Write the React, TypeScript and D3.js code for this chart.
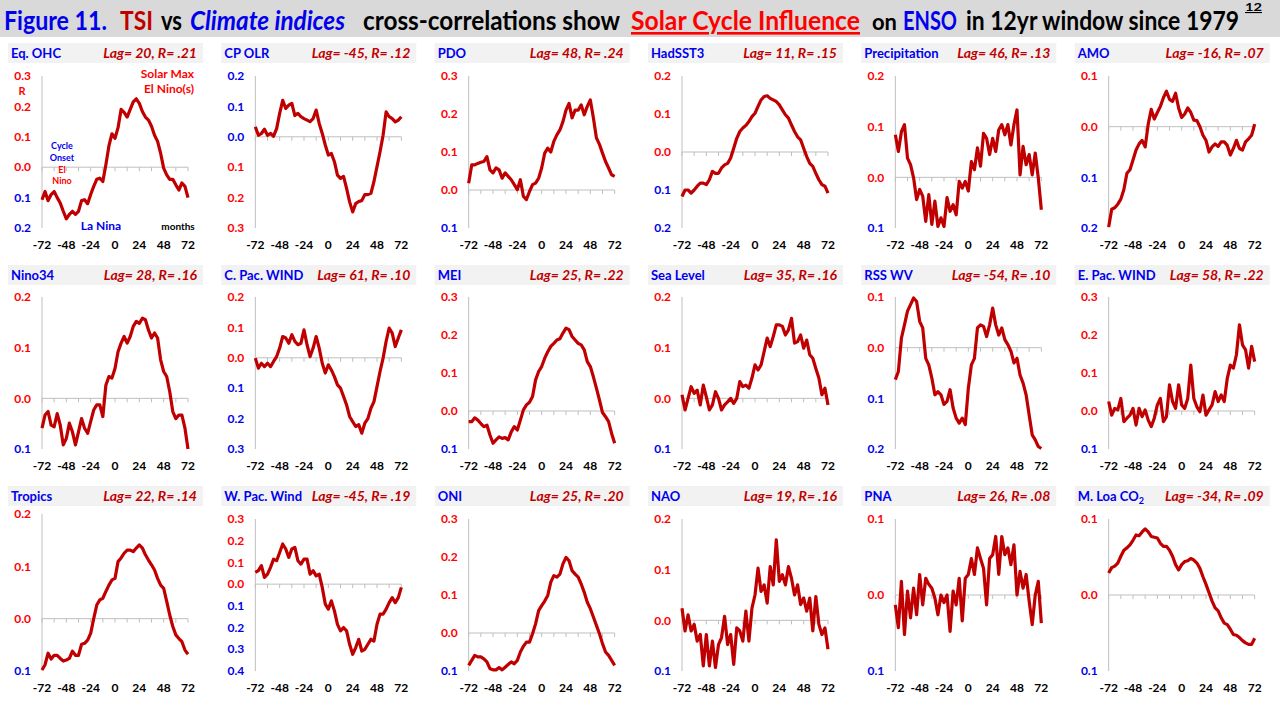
import React from 'react';
import * as d3 from 'd3';

// monthly lag (TSI leads climate index), sampled every 3 months
const lags = d3.range(-72, 73, 3);

const eqOhc = [-0.107, -0.08, -0.11, -0.09, -0.08, -0.1, -0.118, -0.145, -0.17, -0.155, -0.145, -0.155, -0.145, -0.11, -0.107, -0.12, -0.09, -0.063, -0.04, -0.036, -0.047, 0.008, 0.07, 0.11, 0.095, 0.13, 0.19, 0.18, 0.165, 0.19, 0.215, 0.225, 0.21, 0.183, 0.165, 0.155, 0.135, 0.105, 0.085, 0.046, -0.003, -0.025, -0.04, -0.04, -0.058, -0.075, -0.052, -0.063, -0.1];
const cpOlr = [0.033, 0.005, 0.011, 0.025, 0.005, 0.011, 0.002, 0.027, 0.077, 0.12, 0.093, 0.104, 0.11, 0.07, 0.077, 0.066, 0.06, 0.055, 0.05, 0.06, 0.088, 0.044, 0.011, -0.027, -0.06, -0.055, -0.082, -0.126, -0.137, -0.13, -0.17, -0.214, -0.247, -0.22, -0.213, -0.21, -0.19, -0.19, -0.186, -0.147, -0.098, -0.049, 0.005, 0.082, 0.066, 0.06, 0.049, 0.055, 0.066];
const pdo = [0.018, 0.066, 0.066, 0.07, 0.073, 0.075, 0.088, 0.053, 0.045, 0.058, 0.053, 0.031, 0.045, 0.036, 0.027, 0.014, 0.001, 0.027, -0.017, -0.025, -0.004, 0.014, 0.018, 0.031, 0.058, 0.097, 0.11, 0.1, 0.128, 0.145, 0.158, 0.18, 0.21, 0.228, 0.19, 0.21, 0.21, 0.224, 0.198, 0.22, 0.237, 0.19, 0.137, 0.12, 0.097, 0.075, 0.058, 0.04, 0.036];
const hadSst3 = [-0.117, -0.1, -0.1, -0.108, -0.1, -0.09, -0.082, -0.082, -0.086, -0.073, -0.051, -0.056, -0.056, -0.042, -0.034, -0.03, -0.016, 0.01, 0.036, 0.054, 0.063, 0.07, 0.08, 0.093, 0.102, 0.12, 0.137, 0.146, 0.148, 0.141, 0.137, 0.133, 0.124, 0.111, 0.098, 0.089, 0.071, 0.054, 0.04, 0.032, 0.01, -0.012, -0.03, -0.038, -0.056, -0.073, -0.086, -0.09, -0.108];
const precipitation = [0.084, 0.051, 0.09, 0.104, 0.038, 0.025, -0.001, -0.044, -0.024, -0.037, -0.087, -0.034, -0.093, -0.047, -0.097, -0.08, -0.097, -0.04, -0.067, -0.054, -0.074, -0.008, -0.021, -0.008, -0.027, 0.031, 0.015, 0.058, 0.022, 0.087, 0.077, 0.045, 0.077, 0.051, 0.094, 0.104, 0.084, 0.104, 0.064, 0.104, 0.133, 0.005, 0.061, 0.025, 0.045, 0.005, 0.048, -0.001, -0.064];
const amo = [-0.198, -0.163, -0.16, -0.153, -0.143, -0.124, -0.092, -0.085, -0.066, -0.046, -0.034, -0.027, -0.04, 0.005, 0.034, 0.015, 0.028, 0.04, 0.057, 0.07, 0.054, 0.05, 0.066, 0.037, 0.018, 0.025, 0.037, 0.028, 0.013, 0.012, 0.0, -0.017, -0.027, -0.05, -0.04, -0.034, -0.039, -0.03, -0.03, -0.037, -0.056, -0.043, -0.027, -0.043, -0.046, -0.03, -0.024, -0.017, 0.005];
const nino34 = [-0.059, -0.033, -0.026, -0.053, -0.056, -0.03, -0.053, -0.092, -0.079, -0.049, -0.066, -0.092, -0.066, -0.04, -0.059, -0.069, -0.046, -0.023, -0.013, -0.013, -0.036, 0.026, 0.043, 0.04, 0.059, 0.092, 0.109, 0.122, 0.109, 0.122, 0.142, 0.152, 0.148, 0.158, 0.155, 0.135, 0.119, 0.129, 0.119, 0.076, 0.053, 0.043, 0.013, -0.026, -0.04, -0.033, -0.033, -0.059, -0.1];
const cPacWind = [-0.001, -0.034, -0.018, -0.029, -0.018, -0.029, -0.012, 0.004, 0.032, 0.07, 0.065, 0.048, 0.076, 0.054, 0.043, 0.048, 0.092, 0.043, 0.004, 0.032, 0.07, 0.032, -0.018, -0.05, -0.023, -0.04, -0.062, -0.089, -0.1, -0.127, -0.155, -0.193, -0.21, -0.226, -0.22, -0.248, -0.215, -0.2, -0.166, -0.144, -0.095, -0.045, -0.001, 0.054, 0.098, 0.081, 0.037, 0.065, 0.092];
const mei = [-0.028, -0.028, -0.018, -0.024, -0.033, -0.041, -0.037, -0.063, -0.085, -0.076, -0.068, -0.072, -0.07, -0.076, -0.055, -0.041, -0.05, -0.024, 0.003, 0.016, 0.023, 0.038, 0.082, 0.104, 0.117, 0.139, 0.156, 0.17, 0.178, 0.187, 0.19, 0.205, 0.218, 0.214, 0.196, 0.187, 0.178, 0.174, 0.161, 0.13, 0.117, 0.09, 0.06, 0.029, -0.004, -0.015, -0.028, -0.059, -0.085];
const seaLevel = [0.007, -0.023, 0.0, 0.023, 0.01, 0.016, -0.013, 0.026, 0.003, -0.023, -0.013, 0.013, 0.0, -0.023, -0.013, -0.007, 0.0, -0.01, 0.0, 0.033, 0.023, 0.026, 0.02, 0.04, 0.066, 0.056, 0.066, 0.092, 0.119, 0.102, 0.122, 0.145, 0.145, 0.142, 0.125, 0.135, 0.158, 0.109, 0.112, 0.125, 0.099, 0.115, 0.086, 0.079, 0.059, 0.04, 0.007, 0.02, -0.013];
const rssWv = [-0.063, -0.047, 0.019, 0.045, 0.072, 0.085, 0.098, 0.091, 0.052, 0.039, -0.021, -0.034, -0.06, -0.093, -0.087, -0.093, -0.112, -0.106, -0.083, -0.119, -0.139, -0.149, -0.139, -0.152, -0.08, -0.034, -0.021, 0.039, 0.045, 0.042, 0.022, 0.045, 0.078, 0.045, 0.025, 0.039, 0.016, 0.006, -0.007, -0.03, -0.021, -0.054, -0.07, -0.093, -0.133, -0.172, -0.182, -0.195, -0.199];
const ePacWind = [0.025, -0.011, 0.007, 0.003, 0.033, -0.028, -0.019, -0.011, 0.007, -0.037, 0.007, -0.015, 0.003, -0.024, -0.041, -0.019, 0.016, 0.033, -0.028, -0.015, 0.069, 0.025, 0.007, 0.069, 0.016, 0.007, 0.033, 0.121, 0.033, 0.011, -0.002, 0.042, -0.011, 0.003, 0.016, 0.051, 0.025, 0.042, 0.025, 0.086, 0.121, 0.113, 0.148, 0.227, 0.174, 0.161, 0.113, 0.17, 0.13];
const tropics = [-0.098, -0.088, -0.066, -0.077, -0.07, -0.07, -0.076, -0.081, -0.079, -0.076, -0.062, -0.07, -0.07, -0.049, -0.047, -0.041, -0.028, 0.0, 0.026, 0.036, 0.039, 0.052, 0.064, 0.074, 0.077, 0.109, 0.116, 0.125, 0.131, 0.131, 0.128, 0.135, 0.141, 0.135, 0.122, 0.112, 0.103, 0.093, 0.077, 0.064, 0.058, 0.033, 0.007, -0.015, -0.031, -0.038, -0.044, -0.06, -0.068];
const wPacWind = [0.054, 0.062, 0.085, 0.031, 0.046, 0.077, 0.115, 0.108, 0.146, 0.185, 0.162, 0.123, 0.162, 0.169, 0.108, 0.092, 0.115, 0.115, 0.046, 0.062, 0.038, 0.046, -0.015, -0.092, -0.115, -0.077, -0.123, -0.185, -0.215, -0.2, -0.215, -0.277, -0.323, -0.292, -0.254, -0.308, -0.3, -0.277, -0.254, -0.262, -0.185, -0.138, -0.138, -0.115, -0.085, -0.062, -0.085, -0.062, -0.015];
const oni = [-0.085, -0.072, -0.059, -0.063, -0.063, -0.068, -0.076, -0.094, -0.097, -0.097, -0.091, -0.097, -0.09, -0.083, -0.076, -0.081, -0.072, -0.05, -0.035, -0.024, -0.024, -0.002, 0.024, 0.059, 0.072, 0.084, 0.099, 0.134, 0.151, 0.147, 0.155, 0.182, 0.199, 0.19, 0.164, 0.155, 0.147, 0.129, 0.107, 0.081, 0.064, 0.042, 0.02, -0.002, -0.028, -0.05, -0.059, -0.072, -0.085];
const nao = [0.024, -0.021, 0.011, -0.021, -0.008, -0.041, -0.028, -0.09, -0.028, -0.09, -0.041, -0.093, -0.048, -0.034, 0.008, -0.048, -0.028, -0.087, -0.015, -0.021, -0.041, 0.018, -0.041, 0.024, 0.05, 0.103, 0.057, 0.07, 0.034, 0.106, 0.07, 0.159, 0.077, 0.09, 0.07, 0.106, 0.083, 0.05, 0.07, 0.031, 0.044, 0.018, 0.044, -0.021, 0.047, -0.008, -0.028, -0.015, -0.057];
const pna = [-0.013, -0.043, 0.018, -0.052, 0.005, -0.03, 0.009, -0.026, 0.027, -0.013, 0.022, 0.014, 0.009, -0.004, -0.026, 0.0, -0.01, 0.0, -0.048, 0.005, -0.013, 0.022, -0.034, 0.022, 0.027, 0.048, 0.027, 0.062, 0.048, 0.035, -0.013, 0.048, 0.053, 0.077, 0.027, 0.077, 0.053, 0.062, 0.04, 0.066, 0.0, 0.031, 0.009, 0.027, -0.008, -0.039, 0.0, 0.018, -0.037];
const mLoaCo2 = [0.029, 0.036, 0.038, 0.042, 0.051, 0.059, 0.062, 0.066, 0.072, 0.079, 0.078, 0.083, 0.087, 0.083, 0.077, 0.076, 0.075, 0.068, 0.064, 0.064, 0.059, 0.051, 0.04, 0.033, 0.04, 0.044, 0.045, 0.048, 0.046, 0.042, 0.035, 0.024, 0.014, 0.003, -0.008, -0.017, -0.021, -0.03, -0.037, -0.039, -0.045, -0.052, -0.053, -0.056, -0.06, -0.063, -0.065, -0.065, -0.057];

const names = ['Eq. OHC', 'CP OLR', 'PDO', 'HadSST3', 'Precipitation', 'AMO', 'Nino34', 'C. Pac. WIND', 'MEI', 'Sea Level', 'RSS WV', 'E. Pac. WIND', 'Tropics', 'W. Pac. Wind', 'ONI', 'NAO', 'PNA', 'M. Loa CO2'];
const bestLag = [20, -45, 48, 11, 46, -16, 28, 61, 25, 35, -54, 58, 22, -45, 25, 19, 26, -34];
const bestR = ['.21', '.12', '.24', '.15', '.13', '.07', '.16', '.10', '.22', '.16', '.10', '.22', '.14', '.19', '.20', '.16', '.08', '.09'];
// y axis [bottom, top]
const yDomains: [number, number][] = [
  [-0.2, 0.3], [-0.3, 0.2], [-0.1, 0.3], [-0.2, 0.2], [-0.1, 0.2], [-0.2, 0.1],
  [-0.1, 0.2], [-0.3, 0.2], [-0.1, 0.3], [-0.1, 0.2], [-0.2, 0.1], [-0.1, 0.3],
  [-0.1, 0.2], [-0.4, 0.3], [-0.1, 0.3], [-0.1, 0.2], [-0.1, 0.1], [-0.1, 0.1],
];
const series = [eqOhc, cpOlr, pdo, hadSst3, precipitation, amo, nino34, cPacWind, mei, seaLevel, rssWv, ePacWind, tropics, wPacWind, oni, nao, pna, mLoaCo2];
const xTickLabels = [-72, -48, -24, 0, 24, 48, 72];
const xTickMarks = d3.range(-72, 73, 12);

const FONT = "Lato, Carlito, 'Open Sans', sans-serif";
const RED = '#ff0000';
const DARKRED = '#c00000';
const BLUE = '#0000ee';
const GRID = '#bfbfbf';

// title pieces, laid out to the reference's word positions
const titleParts = [
  { text: 'Figure 11.', x: 4, len: 103, fill: BLUE },
  { text: 'TSI', x: 120, len: 33, fill: DARKRED },
  { text: 'vs', x: 161, len: 21, fill: '#000' },
  { text: 'Climate indices', x: 190, len: 155, fill: BLUE, italic: true },
  { text: 'cross-correlations show', x: 363, len: 257, fill: '#000' },
  { text: 'Solar Cycle Influence', x: 631, len: 229, fill: RED, underline: true },
  { text: 'on', x: 872, len: 25, fill: '#000', small: true },
  { text: 'ENSO', x: 903, len: 54, fill: BLUE },
  { text: 'in 12yr window since 1979', x: 966, len: 273, fill: '#000' },
];

const colW = 1280 / 6;
const rows = [
  { band: 43, top: 76, bottom: 228, label: 245 },
  { band: 265, top: 297, bottom: 449, label: 466 },
  { band: 486, top: 519, bottom: 671, label: 688 },
];

const Panel = ({ idx }: { idx: number }) => {
  const col = idx % 6;
  const row = rows[Math.floor(idx / 6)];
  const ox = col * colW;
  const top = names[idx] === 'Tropics' ? row.top - 5 : row.top;
  const x = d3.scaleLinear().domain([-72, 72]).range([ox + 42, ox + 188]);
  const y = d3.scaleLinear().domain(yDomains[idx]).range([row.bottom, top]);
  const flip = names[idx] === 'CP OLR';
  const yTicks = d3.range(Math.round(yDomains[idx][0] * 10), Math.round(yDomains[idx][1] * 10) + 1).map((d) => d / 10);
  const line = d3
    .line<number>()
    .x((_, i) => x(lags[i]))
    .y((d) => y(d));
  const name = names[idx];

  return (
    <g>
      <rect x={ox + 8} y={row.band} width={195} height={20} fill="#f2f2f2" />
      <text x={ox + 11} y={row.band + 15} fill={BLUE} fontSize={13} fontWeight="bold" fontFamily={FONT}>
        {name === 'M. Loa CO2' ? (
          <>
            M. Loa CO<tspan fontSize={9} dy={3}>2</tspan>
          </>
        ) : (
          name
        )}
      </text>
      <text x={ox + 197} y={row.band + 15} fill={DARKRED} fontSize={14} fontWeight="bold" fontStyle="italic" textAnchor="end" fontFamily={FONT}>
        {`Lag= ${bestLag[idx]}, R= ${bestR[idx]}`}
      </text>
      {/* y axis */}
      <line x1={x(-72)} x2={x(-72)} y1={top} y2={row.bottom} stroke={GRID} />
      {yTicks.map((t) => {
        const pos = flip ? t < 0 : t >= 0;
        return (
          <text key={t} x={ox + 31} y={y(t)} dy="0.35em" textAnchor="end" fontSize={12} fontWeight="bold" fill={pos ? RED : BLUE} fontFamily={FONT}>
            {Math.abs(t).toFixed(1)}
          </text>
        );
      })}
      {/* zero line */}
      <line x1={x(-72)} x2={x(72)} y1={y(0)} y2={y(0)} stroke={GRID} />
      {xTickMarks.map((t) => (
        <line key={t} x1={x(t)} x2={x(t)} y1={y(0)} y2={y(0) + 4} stroke={GRID} />
      ))}
      {xTickLabels.map((t) => (
        <text key={t} x={x(t)} y={row.label} dy="0.35em" textAnchor="middle" fontSize={12} fontWeight="bold" fill="#000" fontFamily={FONT}>
          {t}
        </text>
      ))}
      <path d={line(series[idx]) || ''} fill="none" stroke={DARKRED} strokeWidth={3.2} strokeLinejoin="round" />
    </g>
  );
};

const Notes = () => (
  <g fontFamily={FONT} fontWeight="bold">
    <text x={22} y={91} dy="0.35em" textAnchor="middle" fontSize={11} fill={RED}>R</text>
    <text x={194} y={74} dy="0.35em" textAnchor="end" fontSize={12} fill={RED}>Solar Max</text>
    <text x={194} y={89} dy="0.35em" textAnchor="end" fontSize={12} fill={RED}>El Nino(s)</text>
    <text x={62} y={146} dy="0.35em" textAnchor="middle" fontSize={9} fill={BLUE}>Cycle</text>
    <text x={62} y={158} dy="0.35em" textAnchor="middle" fontSize={9} fill={BLUE}>Onset</text>
    <text x={62} y={170} dy="0.35em" textAnchor="middle" fontSize={9} fill={RED}>El</text>
    <text x={62} y={181} dy="0.35em" textAnchor="middle" fontSize={9} fill={RED}>Nino</text>
    <text x={101} y={226} dy="0.35em" textAnchor="middle" fontSize={12} fill={BLUE}>La Nina</text>
    <text x={178} y={226} dy="0.35em" textAnchor="middle" fontSize={10} fill="#000">months</text>
  </g>
);

const App = () => {
  return (
    <svg width={1280} height={704} style={{ position: 'absolute', left: 0, top: 0, background: '#fff' }}>
      <rect x={0} y={0} width={1280} height={37} fill="#d9d9d9" />
      {titleParts.map((p) => (
        <text
          key={p.text}
          x={p.x}
          y={30}
          fontSize={p.small ? 22 : 26}
          fontWeight="bold"
          fontStyle={p.italic ? 'italic' : 'normal'}
          textDecoration={p.underline ? 'underline' : 'none'}
          fill={p.fill}
          fontFamily={FONT}
          textLength={p.len}
          lengthAdjust="spacingAndGlyphs"
        >
          {p.text}
        </text>
      ))}
      <text x={1245} y={11} fontSize={11} fontWeight="bold" fontFamily={FONT} textDecoration="underline" fill="#000" textLength={17} lengthAdjust="spacingAndGlyphs">
        12
      </text>
      {names.map((_, i) => (
        <Panel key={i} idx={i} />
      ))}
      <Notes />
    </svg>
  );
};

export default App;
